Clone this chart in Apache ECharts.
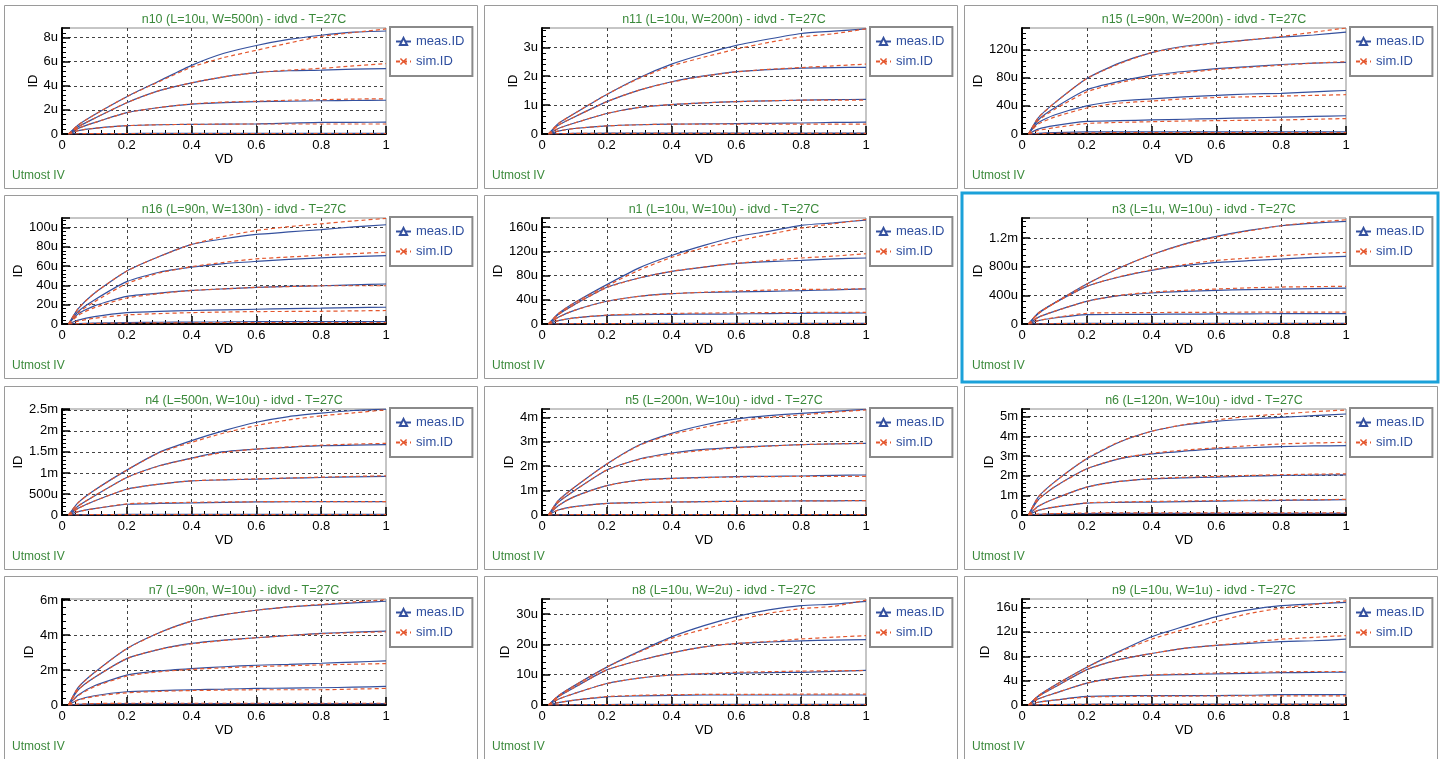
<!DOCTYPE html>
<html><head><meta charset="utf-8">
<script src="https://cdn.jsdelivr.net/npm/echarts@6/dist/echarts.min.js"></script>
<style>html,body{margin:0;padding:0;background:#fff}#c{width:1442px;height:759px}</style>
</head><body><div id="c"></div>
<script>
// ---- data (ID in uA, VD in V) ----
const VD = [0.02, 0.05, 0.1, 0.2, 0.3, 0.4, 0.5, 0.6, 0.7, 0.8, 0.9, 1.0];
const panelTitles = [
  'n10 (L=10u, W=500n) - idvd - T=27C', 'n11 (L=10u, W=200n) - idvd - T=27C', 'n15 (L=90n, W=200n) - idvd - T=27C',
  'n16 (L=90n, W=130n) - idvd - T=27C', 'n1 (L=10u, W=10u) - idvd - T=27C', 'n3 (L=1u, W=10u) - idvd - T=27C',
  'n4 (L=500n, W=10u) - idvd - T=27C', 'n5 (L=200n, W=10u) - idvd - T=27C', 'n6 (L=120n, W=10u) - idvd - T=27C',
  'n7 (L=90n, W=10u) - idvd - T=27C', 'n8 (L=10u, W=2u) - idvd - T=27C', 'n9 (L=10u, W=1u) - idvd - T=27C'
];
const yMax  = [8.8, 3.67, 151, 110, 175, 1480, 2520, 4340, 5390, 6070, 35, 17.4];
const yStep = [2, 1, 40, 20, 40, 400, 500, 1000, 1000, 2000, 10, 4];
const legendNames = ['meas.ID', 'sim.ID'];
const footText = 'Utmost IV';

const n10_meas = [
  [0, 0.75, 1.6, 3.1, 4.4, 5.7, 6.7, 7.35, 7.85, 8.2, 8.45, 8.55],
  [0, 0.6, 1.3, 2.6, 3.6, 4.25, 4.75, 5.1, 5.25, 5.3, 5.38, 5.43],
  [0, 0.47, 0.94, 1.77, 2.2, 2.48, 2.6, 2.68, 2.72, 2.76, 2.78, 2.8],
  [0, 0.28, 0.47, 0.69, 0.77, 0.8, 0.82, 0.84, 0.9, 0.97, 0.97, 0.98],
  [0, 0.02, 0.03, 0.04, 0.05, 0.05, 0.05, 0.06, 0.06, 0.06, 0.06, 0.06]];
const n10_sim = [
  [0, 0.75, 1.6, 3.1, 4.35, 5.55, 6.35, 6.95, 7.55, 8.1, 8.42, 8.72],
  [0, 0.6, 1.3, 2.6, 3.6, 4.25, 4.75, 5.1, 5.3, 5.45, 5.65, 5.85],
  [0, 0.47, 0.94, 1.77, 2.2, 2.5, 2.65, 2.72, 2.8, 2.85, 2.9, 2.92],
  [0, 0.28, 0.47, 0.69, 0.77, 0.8, 0.82, 0.83, 0.83, 0.83, 0.83, 0.83],
  [0, 0.02, 0.03, 0.04, 0.04, 0.04, 0.04, 0.04, 0.04, 0.04, 0.04, 0.04]];
const n11_meas = [
  [0, 0.36, 0.71, 1.37, 1.95, 2.42, 2.77, 3.07, 3.29, 3.48, 3.56, 3.64],
  [0, 0.3, 0.59, 1.12, 1.52, 1.81, 2.01, 2.16, 2.23, 2.28, 2.3, 2.31],
  [0, 0.19, 0.38, 0.71, 0.92, 1.02, 1.08, 1.12, 1.15, 1.17, 1.19, 1.2],
  [0, 0.1, 0.19, 0.28, 0.32, 0.34, 0.35, 0.36, 0.37, 0.38, 0.4, 0.41],
  [0, 0.01, 0.02, 0.03, 0.03, 0.03, 0.03, 0.03, 0.03, 0.03, 0.03, 0.03]];
const n11_sim = [
  [0, 0.36, 0.71, 1.37, 1.93, 2.36, 2.66, 2.94, 3.17, 3.36, 3.47, 3.64],
  [0, 0.3, 0.59, 1.12, 1.52, 1.8, 2.0, 2.15, 2.24, 2.3, 2.36, 2.42],
  [0, 0.19, 0.38, 0.71, 0.92, 1.02, 1.08, 1.12, 1.15, 1.17, 1.17, 1.17],
  [0, 0.1, 0.19, 0.28, 0.32, 0.34, 0.34, 0.34, 0.34, 0.34, 0.34, 0.34],
  [0, 0.01, 0.02, 0.02, 0.02, 0.02, 0.02, 0.02, 0.02, 0.02, 0.02, 0.02]];
const n15_meas = [
  [0, 23, 44, 79, 101, 116, 125, 130, 134, 138, 141, 145],
  [0, 20, 37, 63, 75, 84, 89, 93, 96, 99, 101, 102],
  [0, 16, 27, 40, 47, 50, 53, 55, 57, 58, 60, 62],
  [0, 7, 12, 18, 19, 20, 21, 22, 23, 24, 25, 26],
  [0, 1, 2, 3, 3, 3, 3, 3, 3, 3, 3, 3]];
const n15_sim = [
  [0, 23, 44, 79, 100, 116, 124, 129, 134, 139, 145, 151],
  [0, 19, 35, 60, 73, 82, 87, 92, 95, 98, 101, 103],
  [0, 14, 24, 37, 44, 47, 50, 52, 53, 54, 55, 56],
  [0, 5, 9, 15, 16.5, 17.5, 18.5, 19, 19.5, 20, 21, 22],
  [0, 0.5, 1, 1.5, 2, 2, 2, 2, 2, 2, 2, 2]];
const n16_meas = [
  [0, 16, 32, 55, 70, 82.6, 88.5, 93, 95.5, 98, 100.7, 103],
  [0, 13, 25, 44, 53.7, 59, 62.7, 65, 67, 68.6, 70, 71],
  [0, 10.5, 18.8, 28.6, 32, 34.8, 36.5, 38, 39, 39.7, 40.6, 41.5],
  [0, 4, 7.7, 11.8, 13, 14, 14.7, 15.3, 16, 16.4, 17, 17.4],
  [0, 0.5, 1, 1.5, 1.8, 2, 2.2, 2.4, 2.4, 2.4, 2.4, 2.4]];
const n16_sim = [
  [0, 16, 32, 55, 70, 82.6, 91, 97, 101, 104, 107, 109.5],
  [0, 12, 23, 42, 53, 59.5, 64, 67.6, 69.5, 71.4, 73, 74.5],
  [0, 9, 17, 27, 31.5, 34.8, 36.5, 38, 38.8, 39.7, 39.7, 39.7],
  [0, 3, 6, 9.4, 10.8, 11.8, 12.4, 12.9, 13, 13.2, 13.6, 14],
  [0, 0.3, 0.6, 1, 1.2, 1.3, 1.4, 1.5, 1.5, 1.5, 1.5, 1.5]];
const n1_meas = [
  [0, 17, 35, 65, 92.7, 113, 129.7, 144, 153, 162.8, 167, 171.6],
  [0, 15.5, 32, 60.7, 76, 87, 94, 100, 103, 105, 107.6, 109],
  [0, 11, 22.6, 37.5, 45.8, 50, 52, 53, 54, 55, 56.5, 58],
  [0, 5.5, 10, 14.3, 15.5, 16, 16.3, 16.6, 17.2, 17.7, 18, 18.2],
  [0, 0.3, 0.6, 0.8, 0.9, 1, 1, 1, 1, 1, 1, 1]];
const n1_sim = [
  [0, 17, 35, 63, 89, 110, 125.8, 137, 148, 158.3, 165.5, 172.7],
  [0, 15.5, 32, 60, 76, 87, 94, 100, 105, 109, 112, 116],
  [0, 11, 22.6, 37.5, 45.8, 50, 52.5, 54.5, 56, 57, 57.5, 58],
  [0, 5.5, 10, 14.8, 16.5, 17.5, 18, 18.5, 18.8, 19, 19.2, 19.3],
  [0, 0.3, 0.5, 0.7, 0.8, 0.8, 0.8, 0.8, 0.8, 0.8, 0.8, 0.8]];
const n3_meas = [
  [0, 144, 293, 558, 781, 967, 1116, 1223, 1307, 1372, 1409, 1433],
  [0, 153, 293, 526, 656, 749, 814, 860, 884, 907, 930, 944],
  [0, 93, 177, 316, 395, 433, 455, 470, 480, 488, 495, 502],
  [0, 47, 84, 130, 133, 135, 138, 140, 142, 144, 144, 144],
  [0, 3, 6, 9, 10, 10, 10, 10, 10, 10, 10, 10]];
const n3_sim = [
  [0, 144, 293, 558, 781, 967, 1110, 1215, 1300, 1372, 1420, 1456],
  [0, 150, 290, 526, 660, 755, 830, 888, 921, 953, 980, 1000],
  [0, 93, 177, 316, 400, 445, 470, 488, 505, 516, 522, 526],
  [0, 47, 88, 150, 157, 160, 162, 163, 165, 167, 167, 167],
  [0, 2, 4, 6, 7, 7, 7, 7, 7, 7, 7, 7]];
const n4_meas = [
  [0, 295, 589, 1067, 1489, 1767, 2006, 2205, 2340, 2420, 2484, 2516],
  [0, 215, 454, 892, 1170, 1354, 1505, 1568, 1610, 1648, 1660, 1672],
  [0, 159, 334, 613, 732, 812, 835, 852, 875, 892, 905, 916],
  [0, 80, 151, 255, 275, 287, 300, 310, 315, 318, 318, 318],
  [0, 5, 10, 14, 15, 15, 15, 15, 15, 15, 15, 15]];
const n4_sim = [
  [0, 295, 589, 1067, 1480, 1728, 1950, 2126, 2261, 2357, 2428, 2500],
  [0, 215, 454, 892, 1165, 1345, 1490, 1568, 1620, 1660, 1685, 1704],
  [0, 159, 334, 613, 735, 812, 840, 860, 880, 900, 918, 932],
  [0, 80, 151, 265, 290, 300, 310, 315, 318, 320, 320, 320],
  [0, 4, 8, 10, 10, 10, 10, 10, 10, 10, 10, 10]];
const n5_meas = [
  [0, 587, 1133, 2089, 2867, 3345, 3686, 3932, 4068, 4164, 4246, 4328],
  [0, 519, 997, 1843, 2294, 2539, 2689, 2771, 2830, 2880, 2910, 2935],
  [0, 382, 751, 1201, 1433, 1502, 1540, 1570, 1585, 1597, 1620, 1638],
  [0, 205, 341, 478, 510, 532, 548, 560, 570, 575, 582, 587],
  [0, 8, 15, 20, 20, 20, 20, 20, 20, 20, 20, 20]];
const n5_sim = [
  [0, 587, 1133, 2089, 2850, 3300, 3590, 3836, 4000, 4096, 4205, 4300],
  [0, 519, 997, 1843, 2280, 2500, 2650, 2750, 2820, 2880, 2915, 2935],
  [0, 382, 751, 1201, 1420, 1490, 1530, 1555, 1570, 1580, 1584, 1584],
  [0, 200, 335, 470, 505, 530, 545, 558, 568, 575, 582, 590],
  [0, 6, 12, 15, 15, 15, 15, 15, 15, 15, 15, 15]];
const n6_meas = [
  [0, 912, 1672, 2855, 3699, 4257, 4578, 4764, 4882, 4966, 5051, 5135],
  [0, 777, 1419, 2348, 2855, 3108, 3243, 3361, 3420, 3480, 3510, 3530],
  [0, 439, 828, 1419, 1706, 1841, 1892, 1926, 1970, 2010, 2030, 2044],
  [0, 236, 405, 608, 640, 659, 685, 709, 725, 743, 760, 777],
  [0, 30, 55, 75, 80, 80, 80, 80, 80, 80, 80, 80]];
const n6_sim = [
  [0, 912, 1672, 2880, 3720, 4257, 4600, 4831, 5017, 5135, 5253, 5338],
  [0, 777, 1419, 2348, 2870, 3140, 3300, 3412, 3520, 3615, 3660, 3699],
  [0, 439, 828, 1419, 1706, 1850, 1920, 1960, 2010, 2050, 2075, 2095],
  [0, 236, 405, 620, 660, 690, 710, 730, 750, 765, 780, 794],
  [0, 40, 70, 100, 110, 110, 110, 110, 110, 110, 110, 110]];
const n7_meas = [
  [0, 1006, 1860, 3226, 4137, 4800, 5180, 5427, 5617, 5730, 5844, 5940],
  [0, 873, 1575, 2657, 3188, 3529, 3719, 3852, 3980, 4099, 4170, 4231],
  [0, 569, 1101, 1708, 1954, 2087, 2190, 2277, 2330, 2391, 2460, 2524],
  [0, 304, 531, 759, 820, 873, 910, 949, 970, 987, 1020, 1063],
  [0, 40, 60, 80, 80, 80, 80, 80, 80, 80, 80, 80]];
const n7_sim = [
  [0, 1006, 1860, 3226, 4137, 4800, 5180, 5427, 5617, 5760, 5900, 6034],
  [0, 873, 1575, 2657, 3188, 3500, 3700, 3852, 3980, 4080, 4140, 4193],
  [0, 540, 1050, 1650, 1900, 2040, 2130, 2200, 2250, 2296, 2335, 2372],
  [0, 280, 490, 700, 780, 830, 850, 873, 873, 873, 910, 949],
  [0, 50, 80, 100, 100, 100, 100, 100, 100, 100, 100, 100]];
const n8_meas = [
  [0, 3, 6.4, 12.5, 17.7, 22.5, 26.2, 29.2, 31.4, 32.8, 33.3, 34.2],
  [0, 2.7, 5.8, 11.6, 14.7, 17.2, 19.2, 20.3, 20.8, 21.2, 21.4, 21.6],
  [0, 1.9, 3.8, 7.1, 8.9, 9.9, 10.3, 10.5, 10.7, 10.8, 11.1, 11.4],
  [0, 0.8, 1.6, 2.7, 3.0, 3.2, 3.3, 3.3, 3.3, 3.3, 3.3, 3.3],
  [0, 0.05, 0.1, 0.15, 0.2, 0.2, 0.2, 0.2, 0.2, 0.2, 0.2, 0.2]];
const n8_sim = [
  [0, 3, 6.4, 12.5, 17.5, 22, 25, 27.9, 30.3, 31.8, 32.6, 34.6],
  [0, 2.7, 5.8, 11.6, 14.7, 17.2, 19.2, 20.3, 21, 21.8, 22.4, 22.9],
  [0, 1.9, 3.8, 7.1, 8.9, 9.9, 10.4, 10.8, 11.0, 11.2, 11.3, 11.4],
  [0, 0.8, 1.6, 2.8, 3.2, 3.4, 3.5, 3.5, 3.5, 3.6, 3.6, 3.6],
  [0, 0.04, 0.08, 0.1, 0.1, 0.1, 0.1, 0.1, 0.1, 0.1, 0.1, 0.1]];
const n9_meas = [
  [0, 1.5, 3.2, 6.2, 8.8, 11.2, 12.9, 14.5, 15.6, 16.3, 16.6, 16.85],
  [0, 1.4, 2.9, 5.8, 7.45, 8.45, 9.3, 9.8, 10.1, 10.4, 10.55, 10.8],
  [0, 1.0, 1.9, 3.6, 4.5, 4.9, 5.0, 5.1, 5.2, 5.3, 5.35, 5.4],
  [0, 0.45, 0.8, 1.4, 1.5, 1.55, 1.55, 1.55, 1.6, 1.7, 1.7, 1.7],
  [0, 0.05, 0.08, 0.12, 0.15, 0.15, 0.15, 0.15, 0.15, 0.15, 0.15, 0.15]];
const n9_sim = [
  [0, 1.5, 3.2, 6.2, 8.7, 10.8, 12.4, 13.7, 15.0, 15.9, 16.5, 17.1],
  [0, 1.4, 2.9, 5.8, 7.45, 8.45, 9.3, 9.8, 10.3, 10.8, 11.1, 11.4],
  [0, 1.0, 1.9, 3.6, 4.5, 4.95, 5.1, 5.25, 5.35, 5.45, 5.5, 5.5],
  [0, 0.45, 0.8, 1.3, 1.4, 1.45, 1.45, 1.5, 1.5, 1.5, 1.5, 1.5],
  [0, 0.04, 0.06, 0.1, 0.1, 0.1, 0.1, 0.1, 0.1, 0.1, 0.1, 0.1]];

const measSets = [n10_meas, n11_meas, n15_meas, n16_meas, n1_meas, n3_meas, n4_meas, n5_meas, n6_meas, n7_meas, n8_meas, n9_meas];
const simSets  = [n10_sim, n11_sim, n15_sim, n16_sim, n1_sim, n3_sim, n4_sim, n5_sim, n6_sim, n7_sim, n8_sim, n9_sim];

// ---- layout / style ----
const FONT = '"Liberation Sans", Arial, Helvetica, sans-serif';
const BLUE = '#34509e', RED = '#e4572e', GREEN = '#3b8a3b', TXTBLUE = '#2f4f9f';
const colX = [4, 484, 964], rowY = [5, 195, 386, 576];
const HIGHLIGHT = 5;
const XMARK = 'path://M0,1.5L1.5,0L5,3.5L8.5,0L10,1.5L6.5,5L10,8.5L8.5,10L5,6.5L1.5,10L0,8.5L3.5,5Z';

function fmtI(v, step) {
  const r = v / step;
  if (Math.abs(r - Math.round(r)) > 1e-6) return '';
  if (v === 0) return '0';
  if (Math.abs(v) >= 1000) return (+(v / 1000).toFixed(3)) + 'm';
  return (+v.toFixed(3)) + 'u';
}

const grids = [], xAxes = [], yAxes = [], series = [], legends = [], titles = [], graphics = [];
panelTitles.forEach((t, i) => {
  const px = colX[i % 3], py = rowY[Math.floor(i / 3)];
  if (i === HIGHLIGHT) {
    graphics.push({ type: 'rect', silent: true, z: 100, shape: { x: 962, y: 193, width: 476, height: 189 },
      style: { fill: 'none', stroke: '#1ba1d9', lineWidth: 3 } });
  } else {
    graphics.push({ type: 'rect', silent: true, shape: { x: px + 0.5, y: py + 0.5, width: 473, height: i >= 9 ? 200 : 183 },
      style: { fill: 'none', stroke: '#9a9a9a', lineWidth: 1 } });
  }
  graphics.push({ type: 'text', silent: true, x: px + 8, y: py + 171,
    style: { text: footText, fill: GREEN, font: '12px ' + FONT, textVerticalAlign: 'middle' } });
  titles.push({ text: t, left: px + 240, top: py + 8, textAlign: 'center', padding: 0,
    textStyle: { color: GREEN, fontSize: 12.5, fontWeight: 'normal', fontFamily: FONT } });
  grids.push({ left: px + 58, top: py + 23, width: 324, height: 106, show: true,
    borderColor: '#8c8c8c', borderWidth: 1, backgroundColor: '#fff' });
  xAxes.push({ gridIndex: i, type: 'value', min: 0, max: 1, interval: 0.2,
    name: 'VD', nameLocation: 'middle', nameGap: 19,
    nameTextStyle: { color: '#000', fontSize: 13, fontFamily: FONT },
    axisLine: { show: true, onZero: false, lineStyle: { color: '#000', width: 2 } },
    axisTick: { show: true, inside: true, length: 8, lineStyle: { color: '#000', width: 1.5 } },
    minorTick: { show: true, splitNumber: 5, length: 4, lineStyle: { color: '#000', width: 1 } },
    axisLabel: { color: '#000', fontSize: 13, margin: 5, fontFamily: FONT },
    splitLine: { show: true, showMinLine: false, showMaxLine: false, lineStyle: { color: '#444', type: [3, 3], width: 1 } } });
  const step = yStep[i];
  yAxes.push({ gridIndex: i, type: 'value', min: 0, max: yMax[i], interval: step,
    name: 'ID', nameLocation: 'middle', nameGap: 16,
    nameTextStyle: { color: '#000', fontSize: 13, fontFamily: FONT },
    axisLine: { show: true, onZero: false, lineStyle: { color: '#000', width: 2 } },
    axisTick: { show: true, inside: true, length: 8, lineStyle: { color: '#000', width: 1.5 } },
    minorTick: { show: true, splitNumber: 5, length: 4, lineStyle: { color: '#000', width: 1 } },
    axisLabel: { color: '#000', fontSize: 13, margin: 4, fontFamily: FONT, showMaxLabel: false,
      formatter: v => fmtI(v, step) },
    splitLine: { show: true, showMinLine: false, showMaxLine: false, lineStyle: { color: '#444', type: [3, 3], width: 1 } } });
  legends.push({ left: px + 386, top: py + 22, orient: 'vertical', data: legendNames, selectedMode: false,
    itemWidth: 15, itemHeight: 9, itemGap: 7, padding: [8, 8, 8, 5],
    backgroundColor: '#fff', borderColor: '#8a8a8a', borderWidth: 2,
    textStyle: { color: TXTBLUE, fontSize: 13, fontFamily: FONT } });
  measSets[i].forEach(curve => {
    series.push({ type: 'line', name: legendNames[0], xAxisIndex: i, yAxisIndex: i,
      data: VD.map((x, j) => [x, curve[j]]), showSymbol: false, symbol: 'emptyTriangle',
      smooth: 0.2, silent: true,
      lineStyle: { color: BLUE, width: 1.2 }, itemStyle: { color: BLUE } });
  });
  simSets[i].forEach(curve => {
    series.push({ type: 'line', name: legendNames[1], xAxisIndex: i, yAxisIndex: i,
      data: VD.map((x, j) => [x, curve[j]]), showSymbol: false, symbol: XMARK,
      smooth: 0.2, silent: true,
      lineStyle: { color: RED, width: 1.2, type: [4, 3] }, itemStyle: { color: RED } });
  });
});

const chart = echarts.init(document.getElementById('c'), null, { renderer: 'canvas' });
chart.setOption({
  backgroundColor: '#fff',
  animation: false,
  title: titles,
  grid: grids,
  xAxis: xAxes,
  yAxis: yAxes,
  legend: legends,
  series: series,
  graphic: graphics
});
</script>
</body></html>
